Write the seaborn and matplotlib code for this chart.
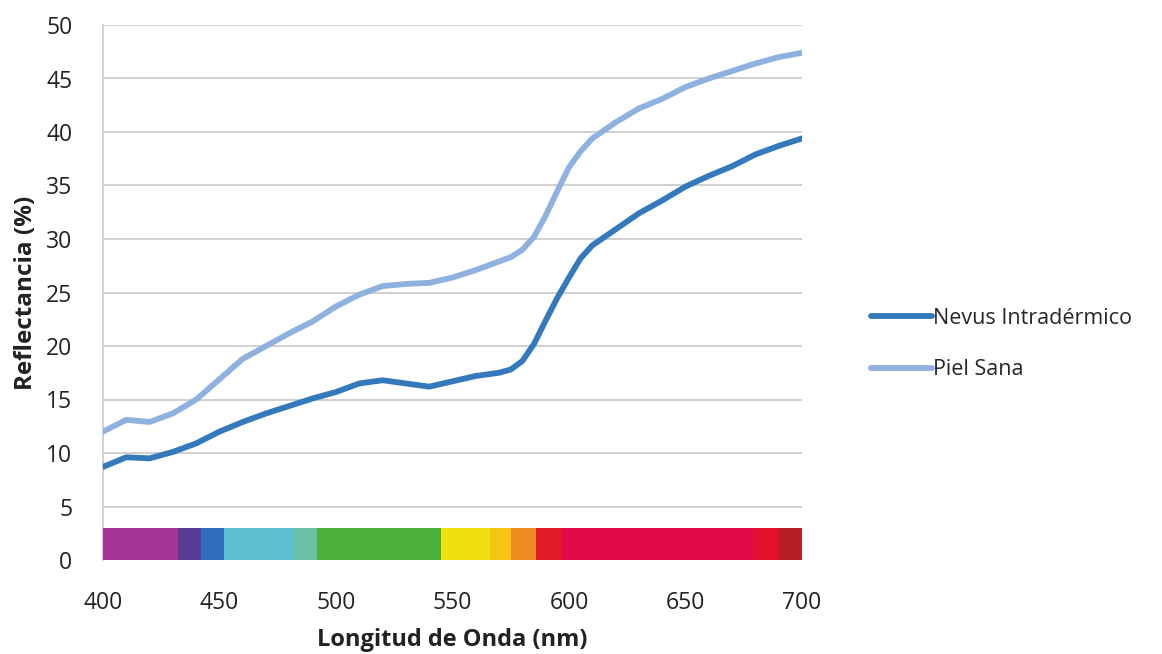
import numpy as np
import pandas as pd
import matplotlib
matplotlib.use("Agg")
import matplotlib.pyplot as plt
from matplotlib.lines import Line2D
import seaborn as sns

# ---- data ----
wavelength = [400, 410, 420, 430, 440, 450, 460, 470, 480, 490, 500, 510, 520, 530, 540,
              550, 560, 570, 575, 580, 585, 590, 595, 600, 605, 610, 620, 630, 640, 650,
              660, 670, 680, 690, 700]
nevus = [8.7, 9.6, 9.5, 10.1, 10.9, 12.0, 12.9, 13.7, 14.4, 15.1, 15.7, 16.5, 16.8, 16.5, 16.2,
         16.7, 17.2, 17.5, 17.8, 18.6, 20.2, 22.4, 24.5, 26.4, 28.2, 29.4, 30.9, 32.4, 33.6, 34.9,
         35.9, 36.8, 37.9, 38.7, 39.4]
piel = [12.0, 13.1, 12.9, 13.7, 15.0, 16.9, 18.8, 20.0, 21.2, 22.3, 23.7, 24.8, 25.6, 25.8, 25.9,
        26.4, 27.1, 27.9, 28.3, 29.0, 30.2, 32.2, 34.5, 36.7, 38.2, 39.4, 40.9, 42.2, 43.1, 44.2,
        45.0, 45.7, 46.4, 47.0, 47.4]
series_names = ["Nevus Intradérmico", "Piel Sana"]

band_start = [400, 432, 442, 452, 482, 492, 545, 566, 575, 586, 597, 679, 690]
band_end   = [432, 442, 452, 482, 492, 545, 566, 575, 586, 597, 679, 690, 700]
band_color = ["#a33596", "#5a3b94", "#2f6cbd", "#5bbfd0", "#6cc0a8", "#4caf38", "#f0e010",
              "#f6c612", "#ee8a22", "#e01c28", "#e00a48", "#e3102c", "#b81f24"]
band_height = 3

xticks = [400, 450, 500, 550, 600, 650, 700]
yticks = list(range(0, 51, 5))

df = pd.DataFrame({
    "Longitud de Onda (nm)": wavelength * 2,
    "Reflectancia (%)": nevus + piel,
    "serie": [series_names[0]] * len(wavelength) + [series_names[1]] * len(wavelength),
})

sns.set_theme(style="white")
plt.rcParams["font.family"] = ["Open Sans", "DejaVu Sans"]

line_colors = ["#3479bb", "#8fb1df"]
fig = plt.figure(figsize=(11.62, 6.54), dpi=100)
ax = fig.add_axes([103 / 1162, 1 - 560 / 654, 699 / 1162, 535 / 654])

# spectrum bar
ax.bar(band_start, band_height, width=np.array(band_end) - np.array(band_start),
       align="edge", color=band_color, linewidth=0, zorder=3)

sns.lineplot(data=df, x="Longitud de Onda (nm)", y="Reflectancia (%)", hue="serie",
             palette=line_colors, linewidth=4.2, ax=ax, zorder=4, legend=False,
             solid_joinstyle="round", solid_capstyle="round")

ax.set_xlim(400, 700)
ax.set_ylim(0, 50)
ax.set_xticks(xticks)
ax.set_yticks(yticks)
ax.yaxis.grid(True, color="#c8c8c8", linewidth=1.2, zorder=0)
ax.set_axisbelow(True)
for s in ["top", "right", "bottom"]:
    ax.spines[s].set_visible(False)
ax.spines["left"].set_color("#c8c8c8")
ax.spines["left"].set_linewidth(1.2)
ax.tick_params(axis="y", labelsize=16.5, colors="#222222", length=0, pad=22)
ax.tick_params(axis="x", labelsize=16.5, colors="#222222", length=0, pad=22)
ax.set_xlabel("Longitud de Onda (nm)", fontsize=17, fontweight="bold", color="#222222", labelpad=10)
ax.set_ylabel("Reflectancia (%)", fontsize=17.5, fontweight="bold", color="#222222", labelpad=6)

handles = [Line2D([], [], color=line_colors[0], linewidth=4.2),
           Line2D([], [], color=line_colors[1], linewidth=4.2)]
fig.legend(handles, series_names, loc="center left", bbox_to_anchor=(852 / 1162, 1 - 344 / 654),
           frameon=False, fontsize=15.5, handlelength=2.8, handletextpad=0.05, labelspacing=1.4)

fig.savefig("out.png", dpi=100, facecolor="white")
